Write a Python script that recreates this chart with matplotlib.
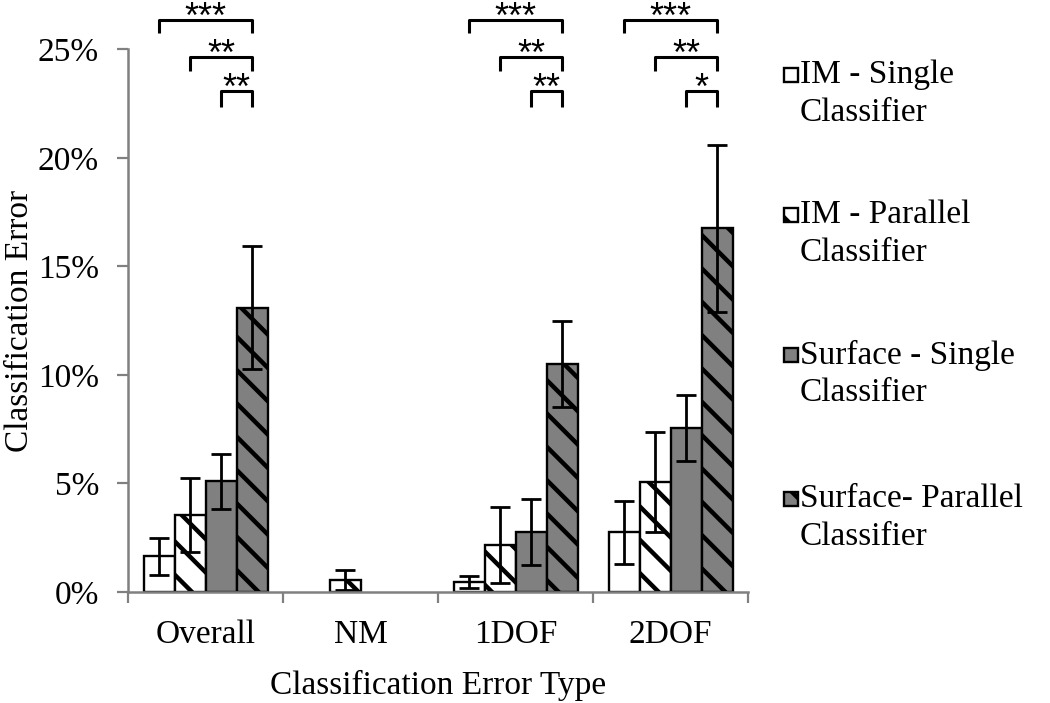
import matplotlib
matplotlib.use("Agg")
import matplotlib.pyplot as plt
import numpy as np
from matplotlib.patches import Rectangle
from matplotlib.ticker import FuncFormatter

# data (classification error in %)
CATEGORIES = ["Overall", "NM", "1DOF", "2DOF"]
SERIES = ["IM - Single\nClassifier", "IM - Parallel\nClassifier",
          "Surface - Single\nClassifier", "Surface- Parallel\nClassifier"]
IM_SINGLE = [1.65, 0.0, 0.45, 2.75]
IM_SINGLE_ERR = [0.85, 0.0, 0.28, 1.45]
IM_PARALLEL = [3.55, 0.55, 2.15, 5.05]
IM_PARALLEL_ERR = [1.72, 0.47, 1.75, 2.30]
SURF_SINGLE = [5.10, 0.0, 2.75, 7.55]
SURF_SINGLE_ERR = [1.27, 0.0, 1.52, 1.52]
SURF_PARALLEL = [13.10, 0.0, 10.50, 16.75]
SURF_PARALLEL_ERR = [2.85, 0.0, 2.00, 3.85]
Y_TICKS = [0, 5, 10, 15, 20, 25]

# significance: (category, bar a, bar b, stars)
SIGNIFICANCE = [
    (0, 0, 3, "***"), (0, 1, 3, "**"), (0, 2, 3, "**"),
    (2, 0, 3, "***"), (2, 1, 3, "**"), (2, 2, 3, "**"),
    (3, 0, 3, "***"), (3, 1, 3, "**"), (3, 2, 3, "*"),
]

SERIF = "Liberation Serif"
FS = 24
GRAY = "#808080"
FILLS = ["white", "white", GRAY, GRAY]
HATCHES = [None, "\\", None, "\\"]

plt.rcParams["hatch.linewidth"] = 3.2
plt.rcParams["font.family"] = SERIF

values = [IM_SINGLE, IM_PARALLEL, SURF_SINGLE, SURF_PARALLEL]
errors = [IM_SINGLE_ERR, IM_PARALLEL_ERR, SURF_SINGLE_ERR, SURF_PARALLEL_ERR]

fig = plt.figure(figsize=(10.5, 7.03), dpi=100)
ax = fig.add_axes([0.122, 0.158, 0.5905, 0.772])

x = np.arange(len(CATEGORIES))
width = 0.2
offsets = [-0.3, -0.1, 0.1, 0.3]

for k in range(4):
    v = np.array(values[k])
    e = np.array(errors[k])
    keep = v > 0
    xs = x[keep] + offsets[k]
    ax.bar(xs, v[keep], width, color=FILLS[k], edgecolor="black",
           linewidth=1.7, hatch=HATCHES[k], zorder=2)
    ax.errorbar(xs, v[keep], yerr=e[keep], fmt="none", ecolor="black",
                elinewidth=2.0, capsize=7, capthick=2.0, zorder=3)

ax.set_xlim(-0.5, len(CATEGORIES) - 0.5)
ax.set_ylim(0, 25)
ax.set_yticks(Y_TICKS)
ax.yaxis.set_major_formatter(FuncFormatter(lambda v, p: f"{v:.0f}%"))
ax.set_xticks(x)
ax.set_xticklabels(CATEGORIES)
ax.set_xticks(np.arange(len(CATEGORIES) + 1) - 0.5, minor=True)
ax.tick_params(axis="x", which="major", length=0, pad=20, labelsize=FS)
ax.tick_params(axis="x", which="minor", length=8, width=1.6, color=GRAY, direction="out")
ax.tick_params(axis="y", length=8, width=1.6, color=GRAY, direction="out", pad=13, labelsize=FS)

for side in ["top", "right"]:
    ax.spines[side].set_visible(False)
for side in ["left", "bottom"]:
    ax.spines[side].set_color(GRAY)
    ax.spines[side].set_linewidth(1.8)
    ax.spines[side].set_zorder(4)

ax.set_xlabel("Classification Error Type", fontsize=FS, labelpad=14)
ax.set_ylabel("Classification Error", fontsize=FS)
ax.yaxis.set_label_coords(-0.15, 0.5)

# significance brackets above the bars
levels = {0: 26.33, 1: 24.63, 2: 23.07}
leg = {0: 0.6, 1: 0.64, 2: 0.74}
for cat, a, b, stars in SIGNIFICANCE:
    xa = x[cat] + offsets[a]
    xb = x[cat] + offsets[b]
    y = levels[a]
    ax.plot([xa, xa, xb, xb], [y - leg[a], y, y, y - leg[a]], color="black",
            lw=2.2, clip_on=False, solid_joinstyle="round", solid_capstyle="butt")
    ax.text((xa + xb) / 2, y - 0.35, stars, ha="center", va="baseline",
            fontsize=26, family="Liberation Sans", clip_on=False)

# legend on the right
W, H = 1050, 703
row_y = [75, 215, 355, 499]
for k in range(4):
    yc = row_y[k]
    fig.add_artist(Rectangle((784 / W, 1 - (yc + 7) / H), 14 / W, 14 / H,
                             transform=fig.transFigure, facecolor=FILLS[k],
                             edgecolor="black", linewidth=1.7, hatch=HATCHES[k]))
    first, second = SERIES[k].split("\n")
    fig.text(800 / W, 1 - yc / H, first, fontsize=FS, va="center", ha="left")
    fig.text(800 / W, 1 - (yc + 38) / H, second, fontsize=FS, va="center", ha="left")

fig.savefig("out.png", dpi=100)
